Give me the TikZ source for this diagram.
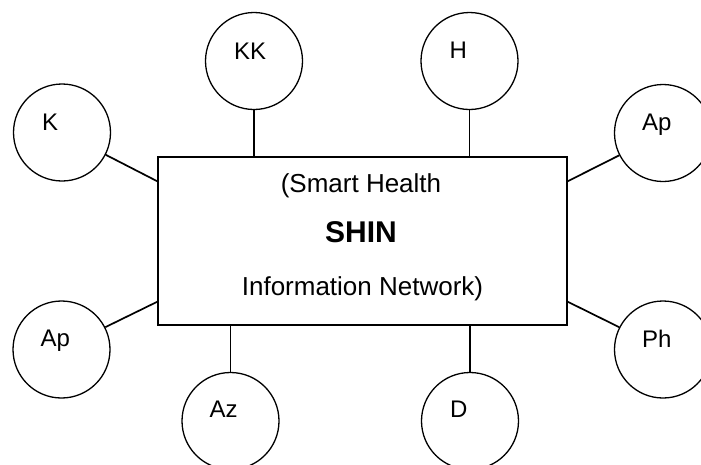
\documentclass[tikz,border=0pt]{standalone}
\usepackage{fontspec}
\setmainfont{Liberation Sans}
\begin{document}
\begin{tikzpicture}[x=1pt,y=-1pt,
  hub/.style={draw, line width=1.5pt, minimum width=409pt, minimum height=168pt, inner sep=0pt},
  member/.style={draw, circle, line width=1.3pt, minimum size=97pt, inner sep=0pt},
  tag/.style={anchor=base west, inner sep=0pt, font=\fontsize{24}{28}\selectfont},
  link/.style={line width=1.7pt},
  stem/.style={line width=1.4pt},
  boxtext/.style={anchor=base, inner sep=0pt, font=\fontsize{26}{30}\selectfont}]
\useasboundingbox (0,0) rectangle (701,464);

% central box
\node[hub] (box) at (362.5,241) {};
\node[boxtext] (l1) at (361,192) {(Smart Health};
\node[boxtext, font=\fontsize{30}{34}\selectfont\bfseries] (l2) at (361,242.7) {SHIN};
\node[boxtext] (l3) at (362.5,295) {Information Network)};

% surrounding circles
\node[member] (K)   at (62,132.5)  {};
\node[member] (KK)  at (254,61)    {};
\node[member] (H)   at (469.5,61)  {};
\node[member] (ApR) at (663,133)   {};
\node[member] (ApL) at (61.5,349.5){};
\node[member] (Az)  at (230.5,421) {};
\node[member] (D)   at (470,421)   {};
\node[member] (Ph)  at (663,349.5) {};

% labels sit left-aligned inside each circle
\node[tag] (tK)   at ([xshift=29pt,yshift=2.5pt]K.west)   {K};
\node[tag] (tKK)  at ([xshift=29pt,yshift=1.5pt]KK.west)  {KK};
\node[tag] (tH)   at ([xshift=29pt,yshift=2.5pt]H.west)   {H};
\node[tag] (tApR) at ([xshift=28pt,yshift=2.5pt]ApR.west) {Ap};
\node[tag] (tApL) at ([xshift=28pt,yshift=3.5pt]ApL.west) {Ap};
\node[tag] (tAz)  at ([xshift=28pt,yshift=4pt]Az.west)    {Az};
\node[tag] (tD)   at ([xshift=29pt,yshift=4pt]D.west)     {D};
\node[tag] (tPh)  at ([xshift=28pt,yshift=2.5pt]Ph.west)  {Ph};

% connectors
\draw[stem] (KK.south) -- (KK.south |- box.north);
\draw[stem] (H.south) -- (H.south |- box.north);
\draw[stem] (Az.north) -- (Az.north |- box.south);
\draw[stem] (D.north) -- (D.north |- box.south);
\draw[link] (K.-27)    -- ([yshift=-25pt]box.north west);
\draw[link] (ApR.207)  -- ([yshift=-25pt]box.north east);
\draw[link] (ApL.27)   -- ([yshift=24pt]box.south west);
\draw[link] (Ph.153)   -- ([yshift=24pt]box.south east);
\end{tikzpicture}
\end{document}
